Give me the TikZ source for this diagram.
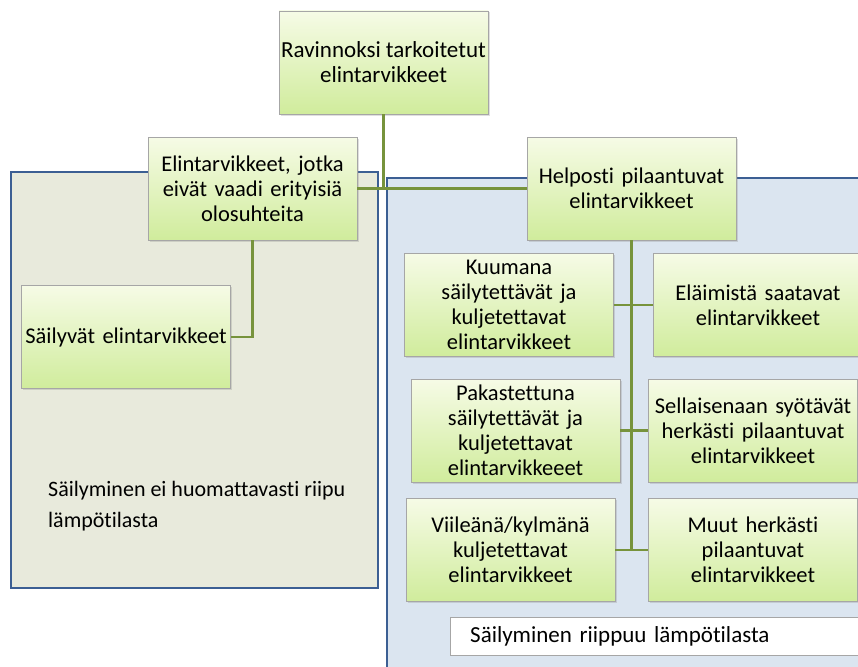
\documentclass[tikz,border=0pt]{standalone}
\usepackage{fontspec}
\setmainfont[Ligatures={NoCommon}]{Carlito}
\usetikzlibrary{positioning,shadows}
\definecolor{lineolive}{HTML}{77933C}
\definecolor{frameblue}{HTML}{3C5F93}
\definecolor{keepbg}{HTML}{E8EADC}
\definecolor{coldbg}{HTML}{DBE5F0}
\definecolor{leaftop}{HTML}{F6FBE6}
\definecolor{leafbot}{HTML}{D0EC9C}
\definecolor{leafedge}{HTML}{A6A6A6}

\begin{document}
\begin{tikzpicture}[x=1pt, y=-1pt, font=\fontsize{22.5}{25}\selectfont]
  \tikzset{
    leaf/.style={draw=leafedge, top color=leaftop, bottom color=leafbot, minimum width=209pt, minimum height=103pt, text width=207pt, align=center, inner sep=1pt,
      drop shadow={opacity=0.25, shadow xshift=1.5pt, shadow yshift=-1.5pt}},
    zone/.style={draw=frameblue, line width=2.2pt},
    link/.style={draw=lineolive, line width=2.4pt},
  }
  \fill[white] (0,0) rectangle (858,666);
  \clip (0,0) rectangle (858,666);
  \draw[zone, fill=keepbg] (11,172) rectangle (378,588);
  \draw[zone, fill=coldbg] (387,178) rectangle (880,690);

  \node[leaf, text width={}, inner xsep=0pt, font=\fontsize{23}{25}\selectfont] (food) at (383.5,62.5) {Ravinnoksi tarkoitetut\\elintarvikkeet};
  \node[leaf] (keep) at (252.5,188.5) {Elintarvikkeet, jotka\\eivät vaadi erityisiä\\olosuhteita};
  \node[leaf] (perish) at (631.5,188.5) {Helposti pilaantuvat\\elintarvikkeet};
  \node[leaf] (lasting) at (126,337) {Säilyvät elintarvikkeet};

  \node[leaf] (hot) at (509,305) {Kuumana\\säilytettävät ja\\kuljetettavat\\elintarvikkeet};
  \node[leaf] (animal) at (758,305) {Eläimistä saatavat\\elintarvikkeet};
  \node[leaf] (frozen) at (515.5,430.5) {Pakastettuna\\säilytettävät ja\\kuljetettavat\\elintarvikkeeet};
  \node[leaf] (ready) at (753,430.5) {Sellaisenaan syötävät\\herkästi pilaantuvat\\elintarvikkeet};
  \node[leaf] (cold) at (510.5,550) {Viileänä/kylmänä\\kuljetettavat\\elintarvikkeet};
  \node[leaf] (other) at (753,550) {Muut herkästi\\pilaantuvat\\elintarvikkeet};

  \node[draw=leafedge, fill=white, anchor=west, minimum width=440pt, minimum height=38pt, inner xsep=10pt, text width=400pt, align=left, font=\fontsize{23}{25}\selectfont] (coldnote) at (450,636) {Säilyminen riippuu lämpötilasta};
  \node[anchor=north west, inner sep=0pt, align=left, font=\fontsize{22}{31}\selectfont] (keepnote) at (48,481) {Säilyminen ei huomattavasti riipu\\lämpötilasta};

  \coordinate (hub) at (food.south |- keep.east);
  \draw[link] (food.south) -- (hub);
  \draw[link] (keep.east) -- (perish.west);
  \draw[link] (keep.south) |- (lasting.east);
  \draw[link] (perish.south) -- (perish.south |- cold.east);
  \draw[link] (hot.east) -- (animal.west);
  \draw[link] (frozen.east) -- (ready.west);
  \draw[link] (cold.east) -- (other.west);
\end{tikzpicture}
\end{document}
